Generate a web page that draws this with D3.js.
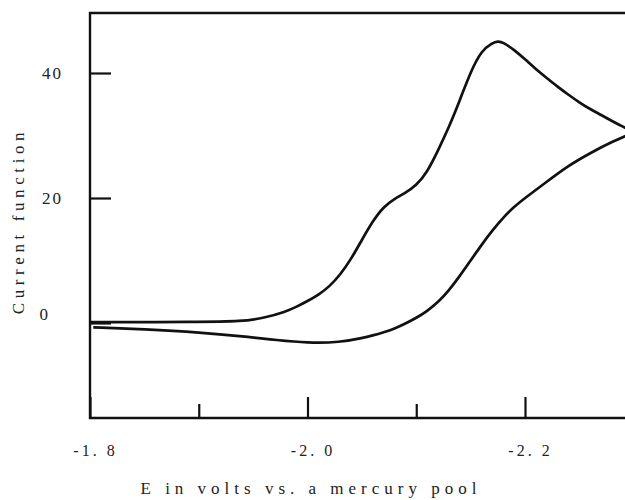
<!DOCTYPE html>
<html>
<head>
<meta charset="utf-8">
<script src="https://cdn.jsdelivr.net/npm/d3@7"></script>
<style>
  body { margin: 0; background: #fff; }
  svg { display: block; }
  .tick text { font-family: "Liberation Serif", "DejaVu Serif", serif; fill: #222; }
  .tick line { stroke: #111; stroke-width: 2.2px; }
</style>
</head>
<body>
<div id="chart"></div>
<script>
// forward scan (upper curve): potential in V, current function
var fwdE = [-1.80, -1.90, -1.94, -1.96, -1.98, -1.99, -2.00, -2.01, -2.02, -2.03, -2.04, -2.05,
            -2.06, -2.07, -2.08, -2.09, -2.10, -2.11, -2.12, -2.13, -2.14, -2.15, -2.16, -2.17,
            -2.175, -2.18, -2.19, -2.20, -2.21, -2.22, -2.23, -2.24, -2.25, -2.26, -2.27, -2.28, -2.29, -2.30];
var fwdI = [0.15, 0.15, 0.25, 0.8, 1.8, 2.6, 3.5, 4.5, 5.8, 7.7, 10.2, 13.3,
            16.3, 18.6, 19.9, 20.8, 22.0, 24.1, 27.6, 31.3, 35.6, 40.2, 43.6, 44.8,
            45.1, 44.9, 43.7, 42.2, 40.6, 39.2, 37.8, 36.5, 35.3, 34.2, 33.3, 32.3, 31.4, 30.6];

// reverse scan (lower curve)
var revE = [-1.803, -1.85, -1.90, -1.95, -1.97, -2.00, -2.03, -2.05, -2.06, -2.07, -2.08, -2.09, -2.10, -2.11,
            -2.12, -2.13, -2.14, -2.15, -2.16, -2.17, -2.18, -2.19, -2.20, -2.22, -2.24, -2.26, -2.28, -2.30];
var revI = [-0.7, -1.0, -1.5, -2.3, -2.7, -3.2, -3.1, -2.4, -2.0, -1.5, -0.9, -0.1, 0.8, 1.9,
            3.3, 5.2, 7.5, 10.0, 12.5, 14.8, 16.9, 18.6, 20.0, 22.6, 25.2, 27.2, 29.0, 30.5];

var xMajor = [-1.8, -2.0, -2.2];
var xMinor = [-1.9, -2.1];
var yTicks = [40, 20, 0];

var width = 625, height = 500;
var margin = {top: 13, left: 90, bottom: 82};

var x = d3.scaleLinear().domain([-1.8, -2.2]).range([margin.left, 525]);
var y = d3.scaleLinear().domain([0, 40]).range([323, 73]);
var yBottom = height - margin.bottom;

var svg = d3.select('#chart').append('svg')
    .attr('width', width)
    .attr('height', height);

svg.append('clipPath').attr('id', 'plot')
  .append('rect')
    .attr('x', margin.left).attr('y', margin.top)
    .attr('width', width - margin.left).attr('height', yBottom - margin.top);

// frame: top, left, bottom
var frame = svg.append('g').attr('stroke', '#111').attr('stroke-width', 2.4).attr('fill', 'none');
frame.append('path').attr('d', 'M' + width + ',' + margin.top + 'H' + margin.left + 'V' + yBottom + 'H' + width);

// x axis, long and short ticks pointing up
var xAxis = svg.append('g')
    .attr('transform', 'translate(0,' + yBottom + ')')
    .call(d3.axisBottom(x).tickValues(xMajor).tickSizeInner(-21).tickSizeOuter(0).tickPadding(27)
      .tickFormat(function (d) { return d3.format('.1f')(d).replace('−', '-').replace('.', '. '); }));
xAxis.select('.domain').remove();
xAxis.selectAll('text').attr('font-size', 16).attr('dx', 5).style('letter-spacing', '3px').style('white-space', 'pre');

var xAxis2 = svg.append('g')
    .attr('transform', 'translate(0,' + yBottom + ')')
    .call(d3.axisBottom(x).tickValues(xMinor).tickSizeInner(-14).tickSizeOuter(0).tickFormat(''));
xAxis2.select('.domain').remove();

// y axis, ticks pointing right
var yAxis = svg.append('g')
    .attr('transform', 'translate(' + margin.left + ',0)')
    .call(d3.axisLeft(y).tickValues(yTicks).tickSizeInner(-21).tickSizeOuter(0).tickPadding(27));
yAxis.select('.domain').remove();
yAxis.selectAll('text').attr('font-size', 17).style('letter-spacing', '2px');
yAxis.selectAll('.tick').filter(function (d) { return d === 0; }).select('text')
    .attr('dx', -13).attr('dy', '-0.2em');

var line = d3.line()
    .x(function (d) { return x(d[0]); })
    .y(function (d) { return y(d[1]); })
    .curve(d3.curveBasis);

var curves = [d3.zip(fwdE, fwdI), d3.zip(revE, revI)];

svg.append('g').attr('clip-path', 'url(#plot)')
  .selectAll('path')
  .data(curves)
  .enter()
  .append('path')
    .attr('d', line)
    .attr('fill', 'none')
    .attr('stroke', '#111')
    .attr('stroke-width', 2.7)
    .attr('stroke-linejoin', 'round');

// axis titles
svg.append('text')
    .attr('x', 311).attr('y', 494)
    .attr('text-anchor', 'middle')
    .attr('font-family', '"Liberation Serif", serif')
    .attr('font-size', 17)
    .attr('fill', '#222')
    .style('letter-spacing', '5px')
    .text('E in volts vs. a mercury pool');

svg.append('text')
    .attr('transform', 'translate(24,221) rotate(-90)')
    .attr('text-anchor', 'middle')
    .attr('font-family', '"Liberation Serif", serif')
    .attr('font-size', 17)
    .attr('fill', '#222')
    .style('letter-spacing', '4.6px')
    .text('Current function');
</script>
</body>
</html>
